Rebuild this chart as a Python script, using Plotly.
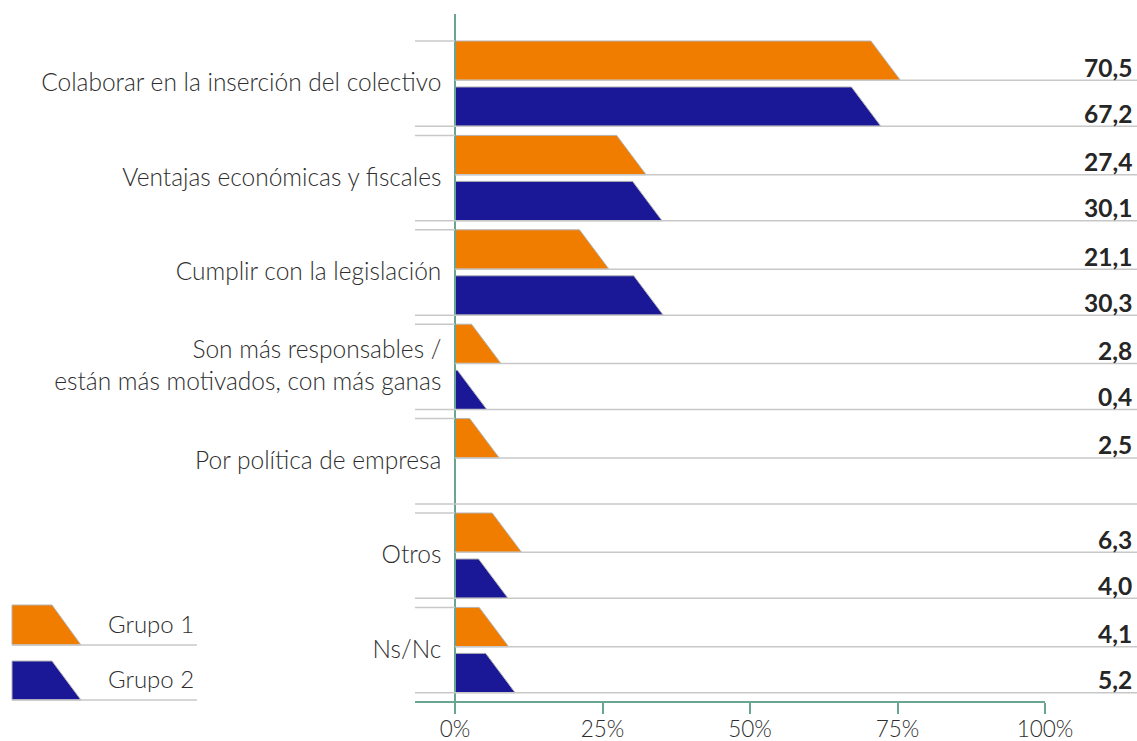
import plotly.graph_objects as go

# Data
categories = [
    "Colaborar en la inserción del colectivo",
    "Ventajas económicas y fiscales",
    "Cumplir con la legislación",
    "Son más responsables /<br>están más motivados, con más ganas",
    "Por política de empresa",
    "Otros",
    "Ns/Nc",
]
grupo1 = [70.5, 27.4, 21.1, 2.8, 2.5, 6.3, 4.1]
grupo2 = [67.2, 30.1, 30.3, 0.4, None, 4.0, 5.2]
series_names = ["Grupo 1", "Grupo 2"]
series_colors = ["#F07D00", "#1A1896"]
tick_values = [0, 25, 50, 75, 100]
tick_labels = ["0%", "25%", "50%", "75%", "100%"]

# Figure geometry (pixels)
W, H = 1137, 741
GROUP_PX = 94.4           # height of one category group
X0_PX, X100_PX = 455, 1045
PX_PER_UNIT = (X100_PX - X0_PX) / 100.0
LEFT_PX = 415             # left end of stubs / horizontal axis
AXIS_BOTTOM_PX = 701
AXIS_TOP_PX = 14
FIRST_TOP_PX = 41

BAR_TOPS = [0.0, 0.487]   # in group units
BAR_H = 0.417
SLANT = 5.0               # width of sloped bar end, in % units

TEXT = "#2e2e2e"
GRID = "#C8C8C8"
AXIS = "#6AA592"
FONT = "Lato"


def px(x):
    return x / W


def py(y):
    return 1 - y / H


x_min = -(X0_PX - LEFT_PX) / PX_PER_UNIT
y_top = -(FIRST_TOP_PX - AXIS_TOP_PX) / GROUP_PX
y_bottom = (AXIS_BOTTOM_PX - FIRST_TOP_PX) / GROUP_PX

fig = go.Figure()

annotations = []
shapes = []

for s, values in enumerate([grupo1, grupo2]):
    for i, v in enumerate(values):
        if v is None:
            continue
        top = i + BAR_TOPS[s]
        bot = top + BAR_H
        fig.add_trace(go.Scatter(
            x=[0, v, v + SLANT, 0, 0],
            y=[top, top, bot, bot, top],
            mode="lines",
            fill="toself",
            fillcolor=series_colors[s],
            line=dict(color="#B4B4B4", width=1),
            hoverinfo="skip",
            showlegend=False,
        ))
        annotations.append(dict(
            x=px(1134), xref="paper", xanchor="right",
            y=bot - 13 / GROUP_PX, yref="y", yanchor="middle",
            text="<b>" + f"{v:.1f}".replace(".", ",") + "</b>",
            showarrow=False,
            font=dict(family=FONT, size=24.5, color="#262626"),
        ))

# Separator lines for each category group
for i in range(len(categories)):
    shapes.append(dict(type="line", xref="paper", yref="y",
                       x0=px(LEFT_PX), x1=px(X0_PX), y0=i, y1=i,
                       line=dict(color=GRID, width=1.5)))
    shapes.append(dict(type="line", xref="paper", yref="y",
                       x0=px(X0_PX), x1=1, y0=i + BAR_TOPS[0] + BAR_H, y1=i + BAR_TOPS[0] + BAR_H,
                       line=dict(color=GRID, width=1.5)))
    shapes.append(dict(type="line", xref="paper", yref="y",
                       x0=px(LEFT_PX), x1=1, y0=i + BAR_TOPS[1] + BAR_H, y1=i + BAR_TOPS[1] + BAR_H,
                       line=dict(color=GRID, width=1.5)))

# Legend with sloped swatches
legend_rows = [(605, 645), (661, 700)]
for (t, b), name, color in zip(legend_rows, series_names, series_colors):
    path = (f"M {px(12)} {py(t)} L {px(52)} {py(t)} L {px(81)} {py(b)} "
            f"L {px(12)} {py(b)} Z")
    shapes.append(dict(type="path", xref="paper", yref="paper", path=path,
                       fillcolor=color, line=dict(color="#B4B4B4", width=1)))
    shapes.append(dict(type="line", xref="paper", yref="paper",
                       x0=px(12), x1=px(197), y0=py(b), y1=py(b),
                       line=dict(color=GRID, width=1.5)))
    annotations.append(dict(
        x=px(106), xref="paper", xanchor="left",
        y=py((t + b) / 2 - 2), yref="paper", yanchor="middle",
        text=name, showarrow=False,
        font=dict(family=FONT, size=24, color=TEXT, weight=300),
    ))

fig.update_layout(
    width=W, height=H,
    margin=dict(l=0, r=0, t=0, b=0, autoexpand=False),
    paper_bgcolor="white",
    plot_bgcolor="white",
    hovermode=False,
    showlegend=False,
    shapes=shapes,
    annotations=annotations,
    xaxis=dict(
        domain=[px(LEFT_PX), px(X100_PX)],
        range=[x_min, 100],
        automargin=False,
        showgrid=False, zeroline=False,
        showline=True, linecolor=AXIS, linewidth=1.5,
        ticks="outside", ticklen=11, tickcolor=AXIS, tickwidth=1.5,
        tickvals=tick_values, ticktext=tick_labels,
        ticklabelstandoff=-4,
        tickfont=dict(family=FONT, size=22.5, color=TEXT, weight=300),
        fixedrange=True,
    ),
    yaxis=dict(
        domain=[py(AXIS_BOTTOM_PX), py(AXIS_TOP_PX)],
        range=[y_bottom, y_top],
        anchor="free", position=px(X0_PX),
        automargin=False,
        showgrid=False, zeroline=False,
        showline=True, linecolor=AXIS, linewidth=1.5,
        ticks="", ticklabelstandoff=8,
        tickvals=[i + 0.44 for i in range(len(categories))],
        ticktext=categories,
        tickfont=dict(family=FONT, size=24.5, color=TEXT, weight=300),
        fixedrange=True,
    ),
)

fig.write_html("out.html")
